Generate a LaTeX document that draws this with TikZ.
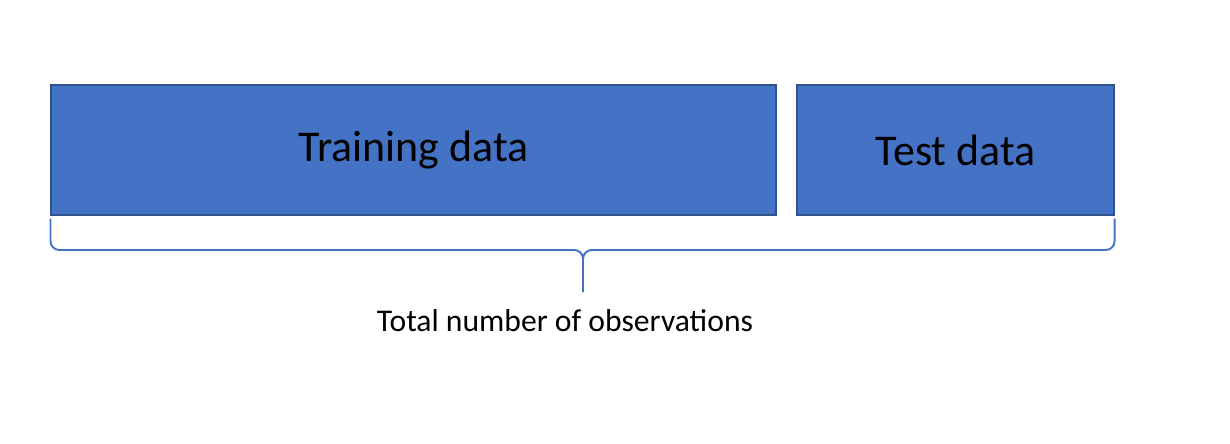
\documentclass[tikz,border=0pt]{standalone}
\usepackage{fontspec}
\setmainfont{Carlito}
\usetikzlibrary{positioning}
\definecolor{boxblue}{HTML}{4472C4}
\definecolor{boxedge}{HTML}{2F528F}
\begin{document}
\begin{tikzpicture}[x=0.02cm, y=-0.02cm,
    block/.style={draw=boxedge, fill=boxblue, line width=0.6pt, inner sep=0pt, font=\fontsize{25}{30}\selectfont},
    brace/.style={draw=boxblue, line width=1.1pt, rounded corners=5pt}]
	\useasboundingbox (0,0) rectangle (1230,443);
	\node[block, minimum width=725*0.02cm, minimum height=130*0.02cm] (train) at (413.5,150) {Training data};
	\node[block, minimum width=317*0.02cm, minimum height=130*0.02cm] (test) at (955.5,150) {Test data};
	\coordinate (tip) at (583,292);
	\coordinate (mid) at (583,250);
	\node[font=\fontsize{18}{22}\selectfont] (total) at (565,321) {Total number of observations};

	%brace under both blocks
	\path[brace] ([yshift=-3*0.02cm]train.south west) |- (mid) -- (tip);
	\path[brace] ([yshift=-3*0.02cm]test.south east) |- (mid) -- (tip);
\end{tikzpicture}
\end{document}
